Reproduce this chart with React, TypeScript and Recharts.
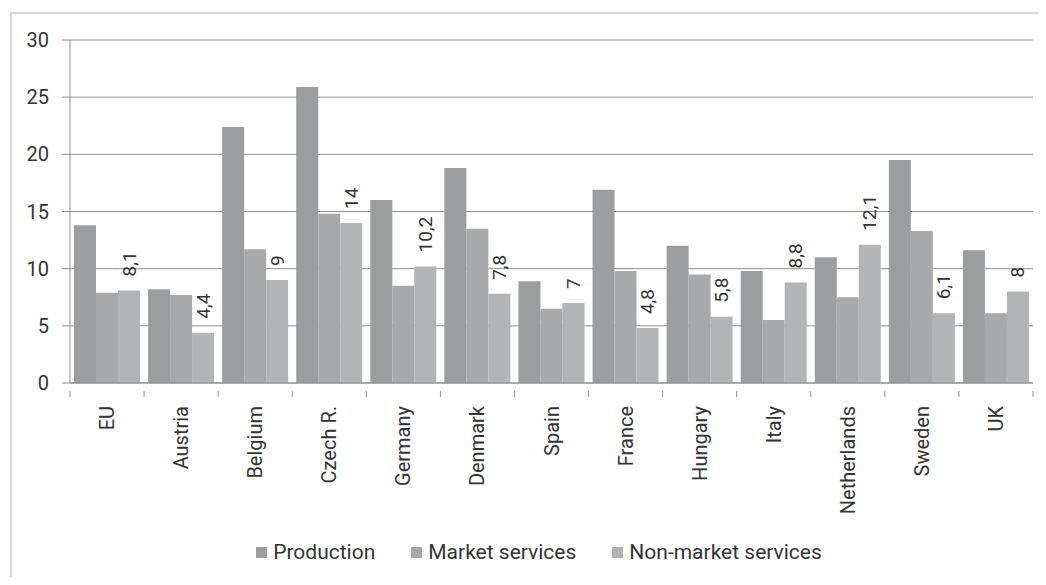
import React from "react";
import {
  BarChart,
  Bar,
  XAxis,
  YAxis,
  CartesianGrid,
  Legend,
  LabelList,
} from "recharts";

const countries = [
  "EU",
  "Austria",
  "Belgium",
  "Czech R.",
  "Germany",
  "Denmark",
  "Spain",
  "France",
  "Hungary",
  "Italy",
  "Netherlands",
  "Sweden",
  "UK",
];
const production = [13.8, 8.2, 22.4, 25.9, 16.0, 18.8, 8.9, 16.9, 12.0, 9.8, 11.0, 19.5, 11.6];
const marketServices = [7.9, 7.7, 11.7, 14.8, 8.5, 13.5, 6.5, 9.8, 9.5, 5.5, 7.5, 13.3, 6.1];
const nonMarketServices = [8.1, 4.4, 9, 14, 10.2, 7.8, 7, 4.8, 5.8, 8.8, 12.1, 6.1, 8];
const yTicks = [0, 5, 10, 15, 20, 25, 30];

const series = [
  { key: "production", name: "Production", color: "#9b9d9e" },
  { key: "market", name: "Market services", color: "#a7a9aa" },
  { key: "nonMarket", name: "Non-market services", color: "#b2b4b5" },
];

const data = countries.map((c, i) => ({
  country: c,
  production: production[i],
  market: marketServices[i],
  nonMarket: nonMarketServices[i],
}));

const FONT = "Roboto, 'Noto Sans', sans-serif";
const TEXT = "#333333";
const LINE = "#8f8f8f";

const CountryTick = (props: any) => {
  const { x, y, payload, index, visibleTicksCount } = props;
  const band = 963 / countries.length;
  return (
    <g>
      <line x1={x - band / 2} x2={x - band / 2} y1={y} y2={y + 6} stroke={LINE} />
      {index === visibleTicksCount - 1 && (
        <line x1={x + band / 2} x2={x + band / 2} y1={y} y2={y + 6} stroke={LINE} />
      )}
      <text
        transform={`translate(${x},${y + 15}) rotate(-90)`}
        textAnchor="end"
        dominantBaseline="central"
        fontSize={20}
        fontFamily={FONT}
        fill={TEXT}
      >
        {payload.value}
      </text>
    </g>
  );
};

const ValueLabel = (props: any) => {
  const { x, y, width, value } = props;
  return (
    <text
      transform={`translate(${x + width / 2},${y - 14}) rotate(-90)`}
      textAnchor="start"
      dominantBaseline="central"
      fontSize={19}
      fontFamily={FONT}
      fill={TEXT}
    >
      {String(value).replace(".", ",")}
    </text>
  );
};

const LegendContent = () => (
  <div
    style={{
      display: "flex",
      justifyContent: "center",
      alignItems: "center",
      height: 30,
      fontFamily: FONT,
      fontSize: 21,
      color: TEXT,
      paddingLeft: 32,
    }}
  >
    {series.map((s, i) => (
      <span
        key={s.key}
        style={{ display: "flex", alignItems: "center", marginLeft: i === 0 ? 0 : 36 }}
      >
        <span style={{ width: 11, height: 11, background: s.color, marginRight: 6 }} />
        {s.name}
      </span>
    ))}
  </div>
);

export default function App() {
  return (
    <div
      style={{
        margin: -8,
        width: 1046,
        height: 585,
        position: "relative",
        overflow: "hidden",
        background: "#fff",
      }}
    >
      <div
        style={{
          position: "absolute",
          left: 10,
          top: 12,
          width: 1100,
          height: 700,
          border: "2px solid #d6d6d6",
        }}
      />
      <BarChart
        width={1046}
        height={585}
        data={data}
        margin={{ top: 40, right: 13, left: 0, bottom: 32 }}
        barCategoryGap={4}
        barGap={0}
      >
        <CartesianGrid vertical={false} stroke={LINE} />
        <XAxis
          dataKey="country"
          interval={0}
          height={140}
          tickLine={false}
          stroke={LINE}
          tick={<CountryTick />}
        />
        <YAxis
          domain={[0, 30]}
          ticks={yTicks}
          width={70}
          stroke={LINE}
          tickSize={8}
          tickMargin={13}
          tick={{ fontSize: 20, fontFamily: FONT, fill: TEXT }}
        />
        <Legend
          verticalAlign="bottom"
          content={<LegendContent />}
          wrapperStyle={{ bottom: 18, left: 0, width: 1046 }}
        />
        {series.map((s) => (
          <Bar
            key={s.key}
            dataKey={s.key}
            name={s.name}
            fill={s.color}
            isAnimationActive={false}
          >
            {s.key === "nonMarket" && <LabelList dataKey="nonMarket" content={<ValueLabel />} />}
          </Bar>
        ))}
      </BarChart>
    </div>
  );
}
